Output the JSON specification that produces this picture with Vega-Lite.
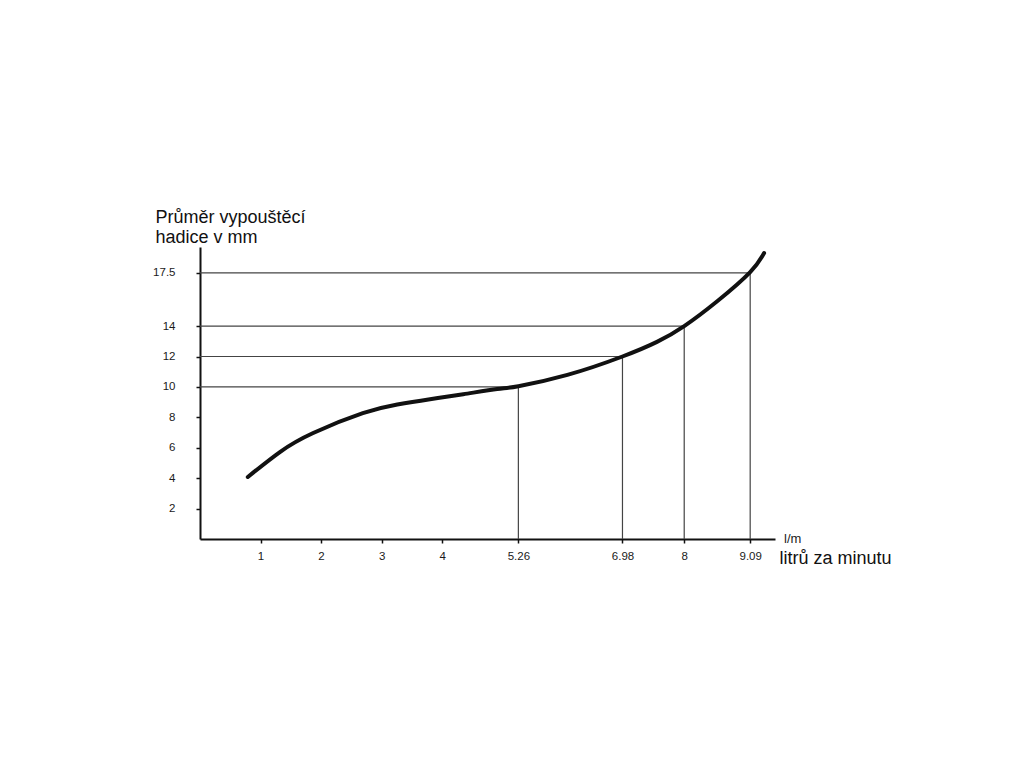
{
  "$schema": "https://vega.github.io/schema/vega-lite/v6.json",
  "width": 575,
  "height": 292,
  "autosize": {"type": "none"},
  "padding": {"left": 200, "top": 247, "right": 249, "bottom": 229},
  "background": "white",
  "config": {
    "view": {"stroke": null},
    "font": "Liberation Sans"
  },
  "datasets": {
    "curve": [
      {"flow": 0.79, "diameter": 4.08},
      {"flow": 1.32, "diameter": 5.72},
      {"flow": 1.87, "diameter": 6.97},
      {"flow": 2.69, "diameter": 8.27},
      {"flow": 3.26, "diameter": 8.84},
      {"flow": 3.8, "diameter": 9.19},
      {"flow": 4.35, "diameter": 9.52},
      {"flow": 4.91, "diameter": 9.86},
      {"flow": 5.26, "diameter": 10.05},
      {"flow": 6.07, "diameter": 10.79},
      {"flow": 6.98, "diameter": 12.0},
      {"flow": 7.55, "diameter": 12.96},
      {"flow": 8.0, "diameter": 14.0},
      {"flow": 8.55, "diameter": 15.65},
      {"flow": 9.09, "diameter": 17.55},
      {"flow": 9.32, "diameter": 18.8}
    ],
    "marks": [
      {"flow": 5.26, "diameter": 10},
      {"flow": 6.98, "diameter": 12},
      {"flow": 8, "diameter": 14},
      {"flow": 9.09, "diameter": 17.5}
    ]
  },
  "layer": [
    {
      "data": {"name": "marks"},
      "mark": {"type": "rule", "color": "#444", "strokeWidth": 1.2},
      "encoding": {
        "x": {"field": "flow", "type": "quantitative", "scale": {"domain": [0, 9.5], "nice": false, "zero": false},
          "axis": {
            "values": [1, 2, 3, 4, 5.26, 6.98, 8, 9.09],
            "format": ".3~f",
            "grid": false,
            "domainColor": "#111", "domainWidth": 2,
            "tickColor": "#111", "tickSize": 4, "tickWidth": 1.5,
            "labelFontSize": 11.5, "labelColor": "#1a1a1a", "labelPadding": 7,
            "title": "litrů za minutu",
            "titleFontSize": 18, "titleFontWeight": "normal", "titleColor": "#111",
            "titleAnchor": "start", "titleAlign": "left", "titleBaseline": "alphabetic",
            "titleX": 579, "titleY": 24
          }
        },
        "x2": {"datum": 0},
        "y": {"field": "diameter", "type": "quantitative", "scale": {"domain": [0, 19.2], "nice": false, "zero": false},
          "axis": {
            "values": [2, 4, 6, 8, 10, 12, 14, 17.5],
            "format": ".3~f",
            "grid": false,
            "domainColor": "#111", "domainWidth": 2,
            "tickColor": "#111", "tickSize": 4, "tickWidth": 1.5,
            "labelFontSize": 11.5, "labelColor": "#1a1a1a", "labelPadding": 21,
            "title": ["Průměr vypouštěcí", "hadice v mm"],
            "titleFontSize": 18, "titleFontWeight": "normal", "titleColor": "#111",
            "titleAngle": 0, "titleAlign": "left", "titleBaseline": "alphabetic",
            "titleLineHeight": 20,
            "titleX": -45, "titleY": -25
          }
        }
      }
    },
    {
      "data": {"name": "marks"},
      "mark": {"type": "rule", "color": "#444", "strokeWidth": 1.2},
      "encoding": {
        "x": {"field": "flow", "type": "quantitative"},
        "y": {"field": "diameter", "type": "quantitative"},
        "y2": {"datum": 0}
      }
    },
    {
      "data": {"name": "curve"},
      "mark": {"type": "line", "color": "#111", "strokeWidth": 4, "interpolate": "natural", "strokeCap": "round"},
      "encoding": {
        "x": {"field": "flow", "type": "quantitative"},
        "y": {"field": "diameter", "type": "quantitative"}
      }
    },
    {
      "data": {"values": [{"flow": 9.65, "diameter": 0, "unit": "l/m"}]},
      "mark": {"type": "text", "align": "left", "baseline": "middle", "fontSize": 13, "color": "#222", "clip": false},
      "encoding": {
        "x": {"field": "flow", "type": "quantitative"},
        "y": {"field": "diameter", "type": "quantitative"},
        "text": {"field": "unit"}
      }
    }
  ]
}
